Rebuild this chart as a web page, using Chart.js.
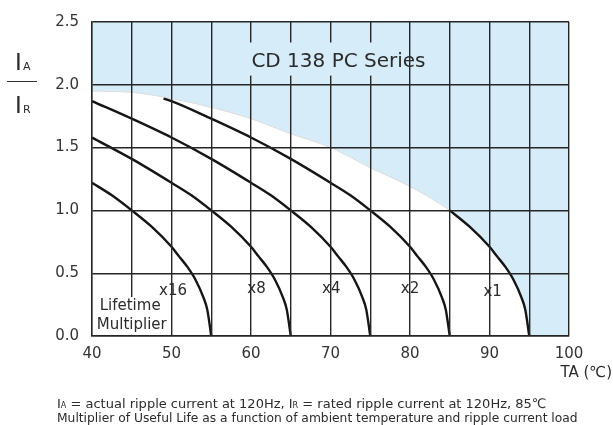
<!DOCTYPE html>
<html><head><meta charset="utf-8">
<script src="https://cdn.jsdelivr.net/npm/chart.js@4.4.1/dist/chart.umd.min.js"></script>
<style>html,body{margin:0;padding:0;background:#fff;}canvas{display:block;}</style>
</head><body>
<canvas id="c" width="613" height="425"></canvas>
<script>
// ---- data ----
const x16T = [40, 42.5, 45, 47.5, 50, 51, 52, 53, 54, 54.5, 55];
const x16Y = [1.22, 1.12, 1.0, 0.87, 0.71, 0.63, 0.55, 0.45, 0.31, 0.21, 0];
const x8T = [40, 45, 50, 52.5, 55, 57.5, 60, 61, 62, 63, 64, 64.5, 65];
const x8Y = [1.58, 1.41, 1.22, 1.12, 1.0, 0.87, 0.71, 0.63, 0.55, 0.45, 0.31, 0.21, 0];
const x4T = [40, 45, 50, 55, 60, 62.5, 65, 67.5, 70, 71, 72, 73, 74, 74.5, 75];
const x4Y = [1.87, 1.73, 1.58, 1.41, 1.22, 1.12, 1.0, 0.87, 0.71, 0.63, 0.55, 0.45, 0.31, 0.21, 0];
const x2T = [49, 50, 55, 60, 65, 70, 72.5, 75, 77.5, 80, 81, 82, 83, 84, 84.5, 85];
const x2Y = [1.89, 1.87, 1.73, 1.58, 1.41, 1.22, 1.12, 1.0, 0.87, 0.71, 0.63, 0.55, 0.45, 0.31, 0.21, 0];
const x1T = [85, 87.5, 90, 91, 92, 93, 94, 94.5, 95];
const x1Y = [1.0, 0.87, 0.71, 0.63, 0.55, 0.45, 0.31, 0.21, 0];
// safe operating area boundary (blue region lower edge)
const zoneT = [40, 45, 50, 55, 60, 65, 70, 75, 80, 85, 87.5, 90, 91, 92, 93, 94, 94.5, 95, 100];
const zoneY = [1.95, 1.94, 1.89, 1.82, 1.73, 1.61, 1.50, 1.34, 1.19, 1.0, 0.87, 0.71, 0.63, 0.55, 0.45, 0.31, 0.21, 0, 0];
const curveLabels = ['x16', 'x8', 'x4', 'x2', 'x1'];
const curveLabelT = [50.2, 60.7, 70.1, 80.0, 90.4];
const curveLabelY = [0.36, 0.37, 0.37, 0.37, 0.35];
const xTickValues = [40, 50, 60, 70, 80, 90, 100];
const yTickValues = [0.0, 0.5, 1.0, 1.5, 2.0, 2.5];
const titleText = 'CD 138 PC Series';
const xTitle = 'TA (\u2103)';
const note1 = [['I', 0], ['A', 1], [' = actual ripple current at 120Hz, I', 0], ['R', 1], [' = rated ripple current at 120Hz, 85\u2103', 0]];
const note2 = 'Multiplier of Useful Life as a function of ambient temperature and ripple current load';

const FONT = '"DejaVu Sans", sans-serif';
const pts = (t, y) => t.map((v, i) => ({x: v, y: y[i]}));
const curveStyle = {borderColor: '#151515', borderWidth: 2.4, fill: false, cubicInterpolationMode: 'monotone', pointRadius: 0};

const annot = {
  id: 'annot',
  afterDraw(chart) {
    const ctx = chart.ctx, xs = chart.scales.x, ys = chart.scales.y;
    const X = v => xs.getPixelForValue(v), Y = v => ys.getPixelForValue(v);
    ctx.save();
    // title box
    ctx.fillStyle = '#d6ecf9';
    ctx.fillRect(X(58.6), Y(2.337), X(78.7) - X(58.6), Y(2.073) - Y(2.337));
    ctx.fillStyle = '#2b2b2b';
    ctx.font = '20px ' + FONT;
    ctx.textAlign = 'center'; ctx.textBaseline = 'middle';
    ctx.fillText(titleText, X(71.0), Y(2.18));
    // lifetime multiplier box
    ctx.fillStyle = '#fff';
    ctx.fillRect(X(40.2), Y(0.31), X(49.9) - X(40.2), Y(0.01) - Y(0.31));
    ctx.fillStyle = '#2b2b2b';
    ctx.font = '15px ' + FONT;
    ctx.fillText('Lifetime', X(44.8), Y(0.24));
    ctx.fillText('Multiplier', X(45.0), Y(0.085));
    curveLabels.forEach((s, i) => ctx.fillText(s, X(curveLabelT[i]), Y(curveLabelY[i])));
    // x title
    ctx.font = '15px ' + FONT;
    ctx.textAlign = 'right';
    ctx.fillText(xTitle, 612, 373);
    // y title  IA / IR
    ctx.textAlign = 'left'; ctx.textBaseline = 'alphabetic';
    ctx.font = '23px ' + FONT;
    ctx.fillText('I', 15, 70);
    ctx.fillText('I', 15, 113);
    ctx.font = '11px ' + FONT;
    ctx.fillText('A', 23, 70);
    ctx.fillText('R', 23, 113);
    ctx.strokeStyle = '#333'; ctx.lineWidth = 1;
    ctx.beginPath(); ctx.moveTo(7, 81.5); ctx.lineTo(37, 81.5); ctx.stroke();
    // footnotes
    const drawSegs = (segs, x0, yb, target, big) => {
      const measure = (sz) => segs.reduce((w, s) => { ctx.font = (s[1] ? sz * 0.62 : sz) + 'px ' + FONT; return w + ctx.measureText(s[0]).width; }, 0);
      const sz = big * target / measure(big);
      let x = x0;
      segs.forEach(s => { ctx.font = (s[1] ? sz * 0.62 : sz) + 'px ' + FONT; ctx.fillText(s[0], x, yb); x += ctx.measureText(s[0]).width; });
    };
    ctx.fillStyle = '#2b2b2b';
    drawSegs(note1, 57, 408, 490, 13);
    drawSegs([[note2, 0]], 57, 422, 521, 13);
    ctx.restore();
  }
};

new Chart(document.getElementById('c'), {
  type: 'line',
  data: {
    datasets: [
      Object.assign({label: 'x16', data: pts(x16T, x16Y)}, curveStyle),
      Object.assign({label: 'x8', data: pts(x8T, x8Y)}, curveStyle),
      Object.assign({label: 'x4', data: pts(x4T, x4Y)}, curveStyle),
      Object.assign({label: 'x2', data: pts(x2T, x2Y)}, curveStyle),
      Object.assign({label: 'x1', data: pts(x1T, x1Y)}, curveStyle),
      {label: 'zone', data: pts(zoneT, zoneY), borderColor: '#dcdcdc', borderWidth: 1, backgroundColor: '#d6ecf9', fill: 'end', cubicInterpolationMode: 'monotone', pointRadius: 0}
    ]
  },
  options: {
    responsive: false, animation: false,
    layout: {padding: {left: 0, top: 14, right: 44, bottom: 0}},
    plugins: {legend: {display: false}, tooltip: {enabled: false}},
    elements: {point: {radius: 0}},
    scales: {
      x: {
        type: 'linear', min: 40, max: 100, z: 1,
        afterFit: s => { s.height = 89; },
        grid: {color: '#262626', lineWidth: 1.4, drawTicks: false, z: 1},
        border: {display: true, color: '#262626', width: 1.4, z: 1},
        ticks: {stepSize: 5, autoSkip: false, maxRotation: 0, padding: 9, color: '#333', font: {family: FONT, size: 15},
          callback: v => xTickValues.includes(v) ? String(v) : ''}
      },
      y: {
        type: 'linear', min: 0, max: 2.5, z: 1,
        afterFit: s => { s.width = 92; },
        grid: {color: '#262626', lineWidth: 1.4, drawTicks: false, z: 1},
        border: {display: true, color: '#262626', width: 1.4, z: 1},
        ticks: {stepSize: 0.5, padding: 13, color: '#333', font: {family: FONT, size: 15},
          callback: v => yTickValues.includes(v) ? v.toFixed(1) : ''}
      }
    }
  },
  plugins: [annot]
});
</script>
</body></html>
